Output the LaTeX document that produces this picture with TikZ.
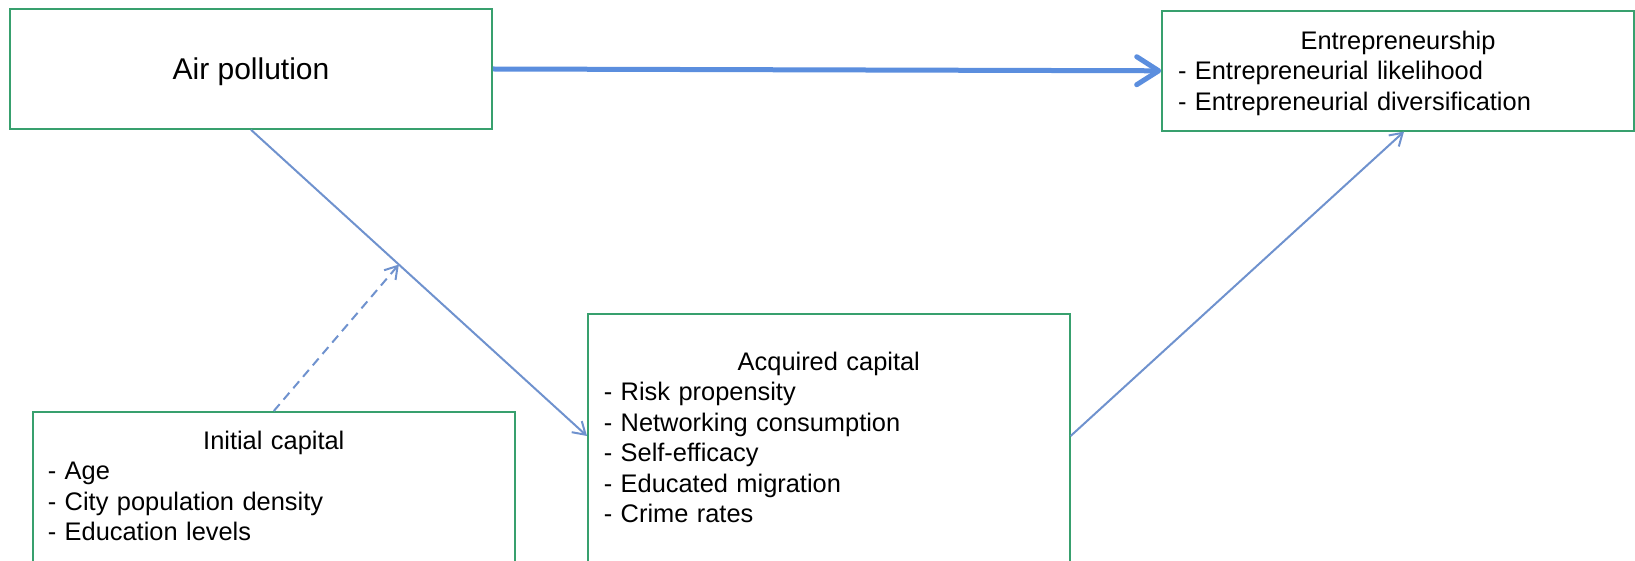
\documentclass[tikz,border=0pt]{standalone}
\usepackage{fontspec}
\setmainfont{Liberation Sans}
\usepackage{tikz}
\usetikzlibrary{positioning,arrows.meta,calc}
\definecolor{boxgreen}{RGB}{56,160,110}
\definecolor{arrblue}{RGB}{111,146,206}
\definecolor{bigblue}{RGB}{91,142,222}

\begin{document}
\begin{tikzpicture}[
  x=1pt, y=1pt,
  font=\fontsize{25.4}{30.5}\selectfont,
  box/.style={draw=boxgreen, line width=1.6pt, align=left, inner xsep=16pt},
  arr/.style={draw=arrblue, line width=2pt, -{Straight Barb[length=12pt,width=15pt]}},
  bigarr/.style={draw=bigblue, line width=5pt, -{Straight Barb[length=22pt,width=28pt,round]}}
]
\useasboundingbox (0,0) rectangle (1635,560);
\clip (0,0) rectangle (1635,560);
\node[box, align=center, minimum width=482pt, minimum height=120pt, font=\fontsize{30}{36}\selectfont, text depth=0pt] (air) at (251,491) {Air pollution};
\node[box, text width=440pt, inner ysep=20pt, text height=18.5pt, text depth=61.5pt, anchor=north] (entre) at (1398,550)
  {\hfill Entrepreneurship\hfill\null\\- Entrepreneurial likelihood\\- Entrepreneurial diversification};
\node[box, text width=450pt, inner ysep=38pt, text depth=260pt, anchor=north west] (acq) at (587,247)
  {\hfill Acquired capital\hfill\null\\- Risk propensity\\- Networking consumption\\- Self-efficacy\\- Educated migration\\- Crime rates};
\node[box, text width=452pt, inner xsep=15pt, inner ysep=19pt, text depth=200pt, anchor=north west] (init) at (32,149)
  {\hfill Initial capital\hfill\null\\- Age\\- City population density\\- Education levels};
% paths
\draw[bigarr] (air.east) -- (entre.west);
\draw[arr] (air.south) -- coordinate[pos=0.44] (mod) ([yshift=-123pt]acq.north west);
\draw[arr] ([yshift=-123pt]acq.north east) -- ([xshift=6pt]entre.south);
\draw[arr, dash pattern=on 9pt off 6pt] (init.north) -- (mod);
\end{tikzpicture}
\end{document}
